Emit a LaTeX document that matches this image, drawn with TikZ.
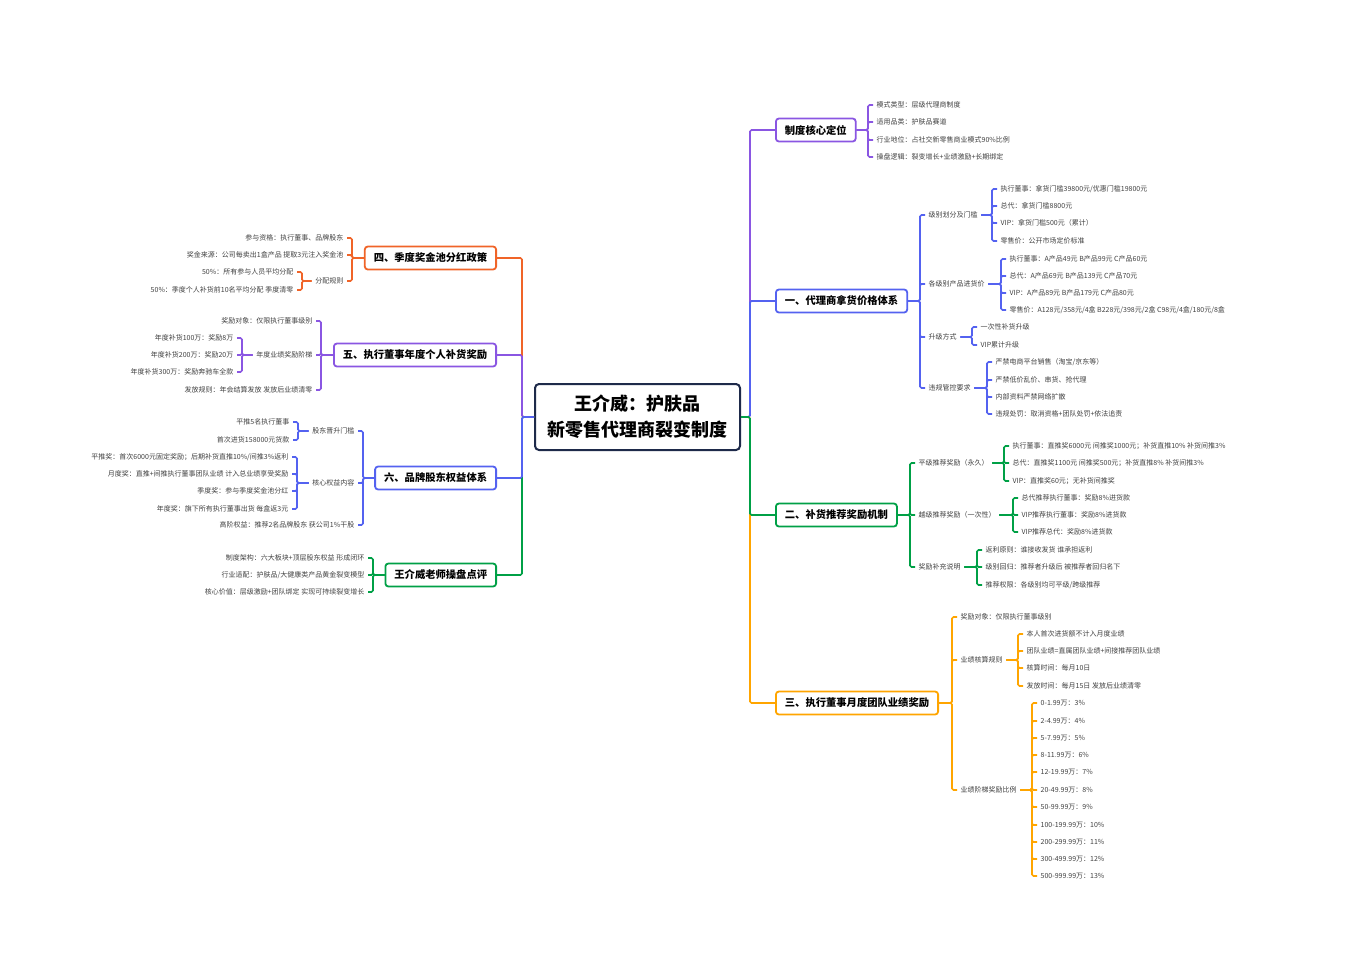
\documentclass[tikz,border=0pt]{standalone}
\usepackage{fontspec}
\setmainfont{Noto Sans CJK SC}
\definecolor{cpur}{RGB}{138,86,226}
\definecolor{cblue}{RGB}{84,98,240}
\definecolor{cgreen}{RGB}{0,160,70}
\definecolor{corange}{RGB}{255,165,0}
\definecolor{cred}{RGB}{240,100,40}
\definecolor{cnavy}{RGB}{30,42,74}
\definecolor{leafc}{RGB}{64,64,64}
\newcommand\conR[3]{\draw[con=#1] (#2.east) -| ([xshift=-5pt]#3.west) -- (#3.west);}
\newcommand\conL[3]{\draw[con=#1] (#2.west) -| ([xshift=5pt]#3.east) -- (#3.east);}
\tikzset{
  con/.style={draw=#1, line width=1.6pt, rounded corners=1.5pt},
  leaf/.style={font=\fontsize{7}{8}\selectfont, text=leafc, inner xsep=3.5pt, inner ysep=1pt},
  lr/.style={leaf, anchor=west},
  ll/.style={leaf, anchor=east},
  box/.style={draw=#1, line width=1.8pt, rounded corners=3pt, fill=white,
    font=\fontsize{10.3}{12}\selectfont\bfseries, minimum height=23pt, inner xsep=9pt},
  cbox/.style={draw=cnavy, line width=2pt, rounded corners=4pt, fill=white,
    font=\fontsize{18}{26}\selectfont\bfseries, minimum width=205pt, minimum height=66pt, align=center}
}
\begin{document}
\begin{tikzpicture}[x=1pt,y=-1pt]
\useasboundingbox (0,0) rectangle (1351,962);
% center
\node[cbox] (C) at (637.5,417) {王介威：护肤品\\新零售代理商裂变制度};
% ---------- right boxes
\node[box=cpur, anchor=west] (b0) at (775,130) {制度核心定位};
\node[box=cblue, anchor=west] (b1) at (775,301) {一、代理商拿货价格体系};
\node[box=cgreen, anchor=west] (b2) at (775,515) {二、补货推荐奖励机制};
\node[box=corange, anchor=west] (b3) at (775,703) {三、执行董事月度团队业绩奖励};
% ---------- left boxes
\node[box=cred, anchor=east] (a0) at (497,258) {四、季度奖金池分红政策};
\node[box=cpur, anchor=east] (a1) at (497,355) {五、执行董事年度个人补货奖励};
\node[box=cblue, anchor=east] (a2) at (497,478) {六、品牌股东权益体系};
\node[box=cgreen, anchor=east] (a3) at (497,575) {王介威老师操盘点评};
% center connectors
\draw[con=cpur] (C.east) -| ([xshift=-25pt]b0.west) -- (b0.west);
\draw[con=cblue] (C.east) -| ([xshift=-25pt]b1.west) -- (b1.west);
\draw[con=corange] (C.east) -| ([xshift=-25pt]b3.west) -- (b3.west);
\draw[con=cgreen] (C.east) -| ([xshift=-25pt]b2.west) -- (b2.west);
\draw[con=cred] (C.west) -| ([xshift=25pt]a0.east) -- (a0.east);
\draw[con=cpur] (C.west) -| ([xshift=25pt]a1.east) -- (a1.east);
\draw[con=cgreen] (C.west) -| ([xshift=25pt]a3.east) -- (a3.east);
\draw[con=cblue] (C.west) -| ([xshift=25pt]a2.east) -- (a2.east);
% ---------- 制度核心定位
\node[lr] (b0a) at (873,105) {模式类型：层级代理商制度};
\node[lr] (b0b) at (873,122) {适用品类：护肤品赛道};
\node[lr] (b0c) at (873,140) {行业地位：占社交新零售商业模式90\%比例};
\node[lr] (b0d) at (873,157) {操盘逻辑：裂变增长+业绩激励+长期绑定};
\conR{cpur}{b0}{b0a}\conR{cpur}{b0}{b0b}\conR{cpur}{b0}{b0c}\conR{cpur}{b0}{b0d}
% ---------- 一
\node[lr] (g1) at (925,215) {级别划分及门槛};
\node[lr] (g2) at (925,284) {各级别产品进货价};
\node[lr] (g3) at (925,337) {升级方式};
\node[lr] (g4) at (925,388) {违规管控要求};
\conR{cblue}{b1}{g1}\conR{cblue}{b1}{g2}\conR{cblue}{b1}{g3}\conR{cblue}{b1}{g4}
\node[lr] (g1a) at (997,189) {执行董事：拿货门槛39800元/优惠门槛19800元};
\node[lr] (g1b) at (997,206) {总代：拿货门槛8800元};
\node[lr] (g1c) at (997,223) {VIP：拿货门槛500元（累计）};
\node[lr] (g1d) at (997,241) {零售价：公开市场定价标准};
\conR{cblue}{g1}{g1a}\conR{cblue}{g1}{g1b}\conR{cblue}{g1}{g1c}\conR{cblue}{g1}{g1d}
\node[lr] (g2a) at (1006,259) {执行董事：A产品49元 B产品99元 C产品60元};
\node[lr] (g2b) at (1006,276) {总代：A产品69元 B产品139元 C产品70元};
\node[lr] (g2c) at (1006,293) {VIP：A产品89元 B产品179元 C产品80元};
\node[lr] (g2d) at (1006,310) {零售价：A128元/358元/4盒 B228元/398元/2盒 C98元/4盒/180元/8盒};
\conR{cblue}{g2}{g2a}\conR{cblue}{g2}{g2b}\conR{cblue}{g2}{g2c}\conR{cblue}{g2}{g2d}
\node[lr] (g3a) at (977,327) {一次性补货升级};
\node[lr] (g3b) at (977,345) {VIP累计升级};
\conR{cblue}{g3}{g3a}\conR{cblue}{g3}{g3b}
\node[lr] (g4a) at (992,362) {严禁电商平台销售（淘宝/京东等）};
\node[lr] (g4b) at (992,380) {严禁低价乱价、串货、抢代理};
\node[lr] (g4c) at (992,397) {内部资料严禁网络扩散};
\node[lr] (g4d) at (992,414) {违规处罚：取消资格+团队处罚+依法追责};
\conR{cblue}{g4}{g4a}\conR{cblue}{g4}{g4b}\conR{cblue}{g4}{g4c}\conR{cblue}{g4}{g4d}
% ---------- 二
\node[lr] (h1) at (915,463) {平级推荐奖励（永久）};
\node[lr] (h2) at (915,515) {越级推荐奖励（一次性）};
\node[lr] (h3) at (915,567) {奖励补充说明};
\conR{cgreen}{b2}{h1}\conR{cgreen}{b2}{h2}\conR{cgreen}{b2}{h3}
\node[lr] (h1a) at (1009,446) {执行董事：直推奖6000元 间推奖1000元；补货直推10\% 补货间推3\%};
\node[lr] (h1b) at (1009,463) {总代：直推奖1100元 间推奖500元；补货直推8\% 补货间推3\%};
\node[lr] (h1c) at (1009,481) {VIP：直推奖60元；无补货间推奖};
\conR{cgreen}{h1}{h1a}\conR{cgreen}{h1}{h1b}\conR{cgreen}{h1}{h1c}
\node[lr] (h2a) at (1018,498) {总代推荐执行董事：奖励8\%进货款};
\node[lr] (h2b) at (1018,515) {VIP推荐执行董事：奖励8\%进货款};
\node[lr] (h2c) at (1018,532) {VIP推荐总代：奖励8\%进货款};
\conR{cgreen}{h2}{h2a}\conR{cgreen}{h2}{h2b}\conR{cgreen}{h2}{h2c}
\node[lr] (h3a) at (982,550) {返利原则：谁接收发货 谁承担返利};
\node[lr] (h3b) at (982,567) {级别回归：推荐者升级后 被推荐者回归名下};
\node[lr] (h3c) at (982,585) {推荐权限：各级别均可平级/跨级推荐};
\conR{cgreen}{h3}{h3a}\conR{cgreen}{h3}{h3b}\conR{cgreen}{h3}{h3c}
% ---------- 三
\node[lr] (k1) at (957,617) {奖励对象：仅限执行董事级别};
\node[lr] (k2) at (957,660) {业绩核算规则};
\node[lr] (k3) at (957,790) {业绩阶梯奖励比例};
\conR{corange}{b3}{k1}\conR{corange}{b3}{k2}\conR{corange}{b3}{k3}
\node[lr] (k2a) at (1023,634) {本人首次进货额不计入月度业绩};
\node[lr] (k2b) at (1023,651) {团队业绩=直属团队业绩+间接推荐团队业绩};
\node[lr] (k2c) at (1023,668) {核算时间：每月10日};
\node[lr] (k2d) at (1023,686) {发放时间：每月15日 发放后业绩清零};
\conR{corange}{k2}{k2a}\conR{corange}{k2}{k2b}\conR{corange}{k2}{k2c}\conR{corange}{k2}{k2d}
\foreach \nm/\yy/\tx in {t1/703/{0-1.99万：3\%}, t2/721/{2-4.99万：4\%}, t3/738/{5-7.99万：5\%},
  t4/755/{8-11.99万：6\%}, t5/772/{12-19.99万：7\%}, t6/790/{20-49.99万：8\%},
  t7/807/{50-99.99万：9\%}, t8/825/{100-199.99万：10\%}, t9/842/{200-299.99万：11\%},
  t10/859/{300-499.99万：12\%}, t11/876/{500-999.99万：13\%}}{
  \node[lr] (\nm) at (1037,\yy) {\tx};
  \conR{corange}{k3}{\nm}
}
% ---------- 四
\node[ll] (m1) at (347,238) {参与资格：执行董事、品牌股东};
\node[ll] (m2) at (347,255) {奖金来源：公司每卖出1盒产品 提取3元注入奖金池};
\node[ll] (m3) at (347,281) {分配规则};
\conL{cred}{a0}{m1}\conL{cred}{a0}{m2}\conL{cred}{a0}{m3}
\node[ll] (m3a) at (297,272) {50\%：所有参与人员平均分配};
\node[ll] (m3b) at (297,290) {50\%：季度个人补货前10名平均分配 季度清零};
\conL{cred}{m3}{m3a}\conL{cred}{m3}{m3b}
% ---------- 五
\node[ll] (n1) at (316,321) {奖励对象：仅限执行董事级别};
\node[ll] (n2) at (316,355) {年度业绩奖励阶梯};
\node[ll] (n3) at (316,390) {发放规则：年会结算发放 发放后业绩清零};
\conL{cpur}{a1}{n1}\conL{cpur}{a1}{n2}\conL{cpur}{a1}{n3}
\node[ll] (n2a) at (237,338) {年度补货100万：奖励8万};
\node[ll] (n2b) at (237,355) {年度补货200万：奖励20万};
\node[ll] (n2c) at (237,372) {年度补货300万：奖励奔驰车全款};
\conL{cpur}{n2}{n2a}\conL{cpur}{n2}{n2b}\conL{cpur}{n2}{n2c}
% ---------- 六
\node[ll] (p1) at (358,431) {股东晋升门槛};
\node[ll] (p2) at (358,483) {核心权益内容};
\node[ll] (p3) at (358,525) {高阶权益：推荐2名品牌股东 获公司1\%干股};
\conL{cblue}{a2}{p1}\conL{cblue}{a2}{p2}\conL{cblue}{a2}{p3}
\node[ll] (p1a) at (293,422) {平推5名执行董事};
\node[ll] (p1b) at (293,440) {首次进货158000元货款};
\conL{cblue}{p1}{p1a}\conL{cblue}{p1}{p1b}
\node[ll] (p2a) at (292,457) {平推奖：首次6000元固定奖励；后期补货直推10\%/间推3\%返利};
\node[ll] (p2b) at (292,474) {月度奖：直推+间推执行董事团队业绩 计入总业绩享受奖励};
\node[ll] (p2c) at (292,491) {季度奖：参与季度奖金池分红};
\node[ll] (p2d) at (292,509) {年度奖：旗下所有执行董事出货 每盒返3元};
\conL{cblue}{p2}{p2a}\conL{cblue}{p2}{p2b}\conL{cblue}{p2}{p2c}\conL{cblue}{p2}{p2d}
% ---------- 王介威老师操盘点评
\node[ll] (q1) at (368,558) {制度架构：六大板块+顶层股东权益 形成闭环};
\node[ll] (q2) at (368,575) {行业适配：护肤品/大健康类产品黄金裂变模型};
\node[ll] (q3) at (368,592) {核心价值：层级激励+团队绑定 实现可持续裂变增长};
\conL{cgreen}{a3}{q1}\conL{cgreen}{a3}{q2}\conL{cgreen}{a3}{q3}
\end{tikzpicture}
\end{document}
